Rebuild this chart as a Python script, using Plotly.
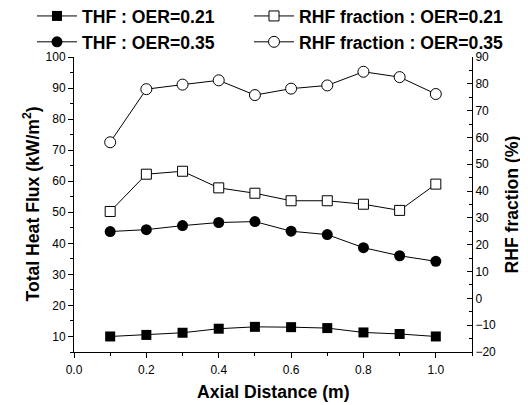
import plotly.graph_objects as go

x = [0.1, 0.2, 0.3, 0.4, 0.5, 0.6, 0.7, 0.8, 0.9, 1.0]
thf_021 = [10.0, 10.5, 11.2, 12.5, 13.1, 13.0, 12.7, 11.3, 10.8, 10.0]
thf_035 = [43.8, 44.4, 45.7, 46.7, 47.0, 43.9, 42.8, 38.6, 36.0, 34.2]
rhf_021 = [32.4, 46.3, 47.4, 41.2, 39.2, 36.4, 36.4, 35.1, 32.8, 42.6]
rhf_035 = [58.2, 78.0, 79.7, 81.3, 75.8, 78.2, 79.4, 84.5, 82.5, 76.2]

FONT = "Liberation Sans, Arial, sans-serif"
line = dict(color="black", width=1)

# page has an 8px body margin, so the figure is 520x397 drawn at (8,8)
W, H = 520, 397
L, R, T, B = 66, 56, 49, 53
PW, PH = W - L - R, H - T - B

fig = go.Figure()
fig.add_trace(go.Scatter(x=x, y=thf_021, name="THF : OER=0.21", mode="lines+markers",
                         line=line, marker=dict(symbol="square", size=10, color="black"),
                         legend="legend", legendgroup="a"))
fig.add_trace(go.Scatter(x=x, y=thf_035, name="THF : OER=0.35", mode="lines+markers",
                         line=line, marker=dict(symbol="circle", size=11, color="black"),
                         legend="legend", legendgroup="b"))
fig.add_trace(go.Scatter(x=x, y=rhf_021, name="RHF fraction : OER=0.21", mode="lines+markers",
                         line=line, yaxis="y2",
                         marker=dict(symbol="square", size=10, color="white",
                                     line=dict(color="black", width=1)),
                         legend="legend2", legendgroup="c"))
fig.add_trace(go.Scatter(x=x, y=rhf_035, name="RHF fraction : OER=0.35", mode="lines+markers",
                         line=line, yaxis="y2",
                         marker=dict(symbol="circle", size=11, color="white",
                                     line=dict(color="black", width=1)),
                         legend="legend2", legendgroup="d"))

tickfont = dict(family=FONT, size=12, color="black")
titlefont = dict(family=FONT, size=17.6, color="black", weight="bold")
legfont = dict(family=FONT, size=17.6, color="black", weight="bold")

leg_y = 1 + (T + 10) / PH

fig.update_layout(
    width=W, height=H,
    margin=dict(l=L, r=R, t=T, b=B, autoexpand=False),
    paper_bgcolor="white", plot_bgcolor="white",
    showlegend=True,
    xaxis=dict(range=[0, 1.1], dtick=0.2, tick0=0, tickformat=".1f",
               showgrid=False, zeroline=False, showline=True, linecolor="black", linewidth=1,
               ticks="outside", ticklen=5, tickcolor="black", ticklabelstandoff=2,
               minor=dict(dtick=0.1, ticks="outside", ticklen=3, tickcolor="black"),
               tickfont=tickfont),
    yaxis=dict(range=[5, 100], dtick=10, tick0=0,
               showgrid=False, zeroline=False, showline=True, linecolor="black", linewidth=1,
               ticks="outside", ticklen=5, tickcolor="black",
               minor=dict(dtick=5, ticks="outside", ticklen=3, tickcolor="black"),
               tickfont=tickfont),
    yaxis2=dict(range=[-20, 90], dtick=10, tick0=0, overlaying="y", side="right",
                showgrid=False, zeroline=False, showline=True, linecolor="black", linewidth=1,
                ticks="inside", ticklen=5, tickcolor="black",
                minor=dict(dtick=5, ticks="inside", ticklen=3, tickcolor="black"),
                tickfont=tickfont),
    legend=dict(xref="paper", yref="paper", x=(24 - L) / PW, y=leg_y,
                xanchor="left", yanchor="top", font=legfont, itemwidth=40,
                tracegroupgap=0, bgcolor="rgba(0,0,0,0)"),
    legend2=dict(xref="paper", yref="paper", x=(241 - L) / PW, y=leg_y,
                 xanchor="left", yanchor="top", font=legfont, itemwidth=40,
                 tracegroupgap=0, bgcolor="rgba(0,0,0,0)"),
    annotations=[
        dict(text="Axial Distance (m)", xref="paper", yref="paper", x=0.5, y=0,
             xanchor="center", yanchor="middle", yshift=-40, showarrow=False, font=titlefont),
        dict(text="Total Heat Flux (kW/m<sup>2</sup>)", xref="paper", yref="paper", x=0, y=0.5,
             xanchor="center", yanchor="middle", xshift=-43, textangle=-90,
             showarrow=False, font=titlefont),
        dict(text="RHF fraction (%)", xref="paper", yref="paper", x=1, y=0.5,
             xanchor="center", yanchor="middle", xshift=39, textangle=-90,
             showarrow=False, font=titlefont),
    ],
)

fig.write_html("out.html")
